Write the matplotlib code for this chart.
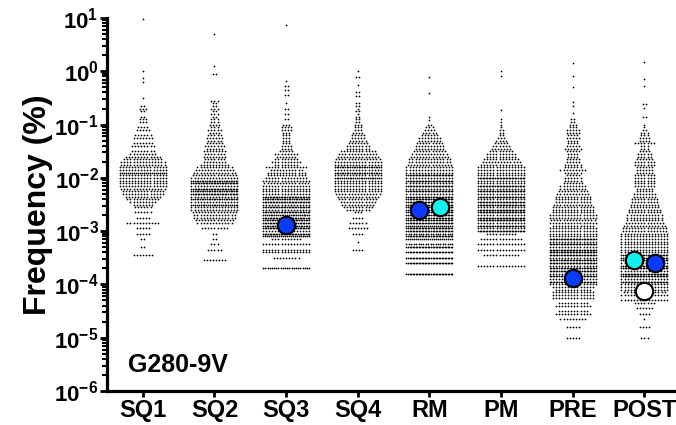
import numpy as np
import matplotlib
matplotlib.use('Agg')
import matplotlib.pyplot as plt
from matplotlib.ticker import LogLocator, LogFormatterMathtext, NullFormatter

# categories on the x axis
categories = ['SQ1', 'SQ2', 'SQ3', 'SQ4', 'RM', 'PM', 'PRE', 'POST']

# each swarm: log10(frequency) of the lowest row, then number of dots per row,
# one row every 0.05 decade going up; tails are sparse (log10 value, dots) rows
row_step = 0.05

sq1_start = -3.45
sq1_rows = [7, 0, 0, 2, 0, 0, 2, 0, 5, 0,
            5, 0, 11, 0, 5, 0, 6, 0, 6, 7,
            9, 11, 12, 14, 14, 15, 16, 16, 16, 16,
            16, 24, 16, 16, 15, 15, 13, 12, 9, 8,
            0, 8, 7, 0, 7, 6, 0, 5, 4, 0,
            3, 3, 2, 0, 2, 3, 2, 0, 0, 1]
sq1_tail = [(-0.20, 1), (-0.12, 1), (0.0, 1), (0.98, 1)]

sq2_start = -3.55
sq2_rows = [8, 0, 0, 0, 5, 0, 3, 0, 2, 0,
            2, 0, 9, 0, 12, 13, 14, 14, 15, 16,
            16, 26, 16, 28, 16, 30, 28, 30, 16, 30,
            28, 16, 15, 14, 13, 12, 10, 8, 7, 8,
            7, 8, 6, 7, 6, 5, 6, 5, 4, 5,
            3, 4, 3, 3, 2, 3, 2, 3, 2, 2,
            3]
sq2_tail = [(-0.05, 2), (0.09, 1), (0.70, 1)]

sq3_start = -3.70
sq3_rows = [22, 0, 0, 0, 9, 0, 16, 16, 0, 16,
            0, 10, 24, 30, 16, 30, 28, 30, 28, 30,
            26, 30, 16, 30, 16, 30, 28, 30, 16, 16,
            16, 16, 15, 16, 14, 13, 13, 11, 14, 8,
            10, 8, 7, 8, 5, 4, 4, 3, 3, 3,
            3, 3, 4, 4, 3, 0, 2, 0, 2, 0,
            2, 0, 1]
sq3_tail = [(-0.45, 2), (-0.36, 2), (-0.28, 2), (-0.18, 1), (0.86, 1)]

sq4_start = -3.35
sq4_rows = [4, 0, 0, 1, 0, 0, 4, 0, 7, 0,
            6, 0, 4, 0, 3, 8, 10, 11, 12, 13,
            14, 15, 16, 16, 16, 16, 16, 26, 16, 28,
            16, 28, 16, 16, 15, 14, 13, 12, 8, 8,
            7, 6, 5, 5, 4, 3, 3, 3, 2, 2,
            2, 1, 2, 1, 2, 2]
sq4_tail = [(-0.47, 2), (-0.38, 2), (-0.26, 1), (-0.10, 2), (0.0, 1)]

rm_start = -3.80
rm_rows = [31, 0, 0, 0, 31, 0, 31, 0, 31, 0,
           31, 20, 0, 24, 31, 20, 31, 31, 24, 31,
           31, 31, 31, 31, 31, 31, 31, 31, 31, 31,
           16, 31, 16, 31, 16, 31, 16, 31, 16, 16,
           16, 15, 14, 14, 13, 12, 11, 10, 10, 9,
           8, 8, 6, 5, 4, 3, 2]
rm_tail = [(-0.91, 1), (-0.85, 1), (-0.41, 1), (-0.10, 1)]

pm_start = -3.65
pm_rows = [16, 0, 0, 0, 12, 0, 16, 0, 16, 0,
           14, 0, 10, 31, 16, 31, 16, 31, 31, 16,
           31, 31, 16, 31, 31, 16, 31, 16, 31, 16,
           31, 16, 16, 31, 16, 16, 16, 16, 14, 13,
           12, 10, 10, 8, 7, 6, 5, 4, 3, 2,
           2, 2, 1, 1, 1, 1]
pm_tail = [(-0.72, 1), (-0.09, 1), (0.01, 1)]

pre_start = -5.00
pre_rows = [5, 0, 0, 0, 5, 0, 0, 9, 0, 12,
            10, 0, 12, 10, 0, 14, 14, 14, 12, 14,
            16, 31, 16, 31, 16, 31, 31, 16, 31, 31,
            16, 31, 31, 31, 16, 31, 16, 31, 16, 16,
            16, 16, 14, 16, 15, 16, 16, 14, 14, 14,
            13, 12, 12, 12, 11, 10, 9, 9, 7, 6,
            6, 5, 6, 9, 6, 6, 5, 5, 4, 4,
            5, 6, 5, 4, 4, 5, 4, 5, 5, 3,
            3, 2, 2]
pre_tail = [(-0.79, 1), (-0.66, 1), (-0.57, 1), (-0.29, 1), (-0.08, 1), (0.16, 1)]

post_start = -5.00
post_rows = [3, 0, 0, 0, 4, 0, 0, 1, 0, 4,
             0, 6, 0, 7, 16, 0, 16, 14, 16, 16,
             16, 31, 16, 31, 31, 16, 31, 31, 16, 31,
             31, 31, 16, 16, 16, 16, 16, 16, 16, 16,
             15, 15, 14, 13, 12, 12, 12, 11, 11, 10,
             10, 9, 9, 8, 8, 6, 6, 7, 7, 7,
             7, 7, 6, 6, 6, 7, 7, 6, 5, 5,
             4, 3, 3, 7, 4, 4, 3, 3, 2, 1,
             1]
post_tail = [(-0.86, 2), (-0.69, 1), (-0.62, 2), (-0.27, 1), (-0.14, 1), (0.18, 1)]

starts = [sq1_start, sq2_start, sq3_start, sq4_start, rm_start, pm_start, pre_start, post_start]
rows = [sq1_rows, sq2_rows, sq3_rows, sq4_rows, rm_rows, pm_rows, pre_rows, post_rows]
tails = [sq1_tail, sq2_tail, sq3_tail, sq4_tail, rm_tail, pm_tail, pre_tail, post_tail]

# highlighted clones
hl_cat = ['SQ3', 'RM', 'RM', 'PRE', 'POST', 'POST', 'POST']
hl_val = [10**-2.88, 10**-2.60, 10**-2.55, 10**-3.87, 10**-3.55, 10**-3.60, 10**-4.12]
hl_col = ['#0b3bff', '#0b3bff', '#10f2f2', '#0b3bff', '#10f2f2', '#0b3bff', '#ffffff']

plt.rcParams['font.family'] = ['Liberation Sans', 'DejaVu Sans']
plt.rcParams['font.weight'] = 'bold'

W, H = 676, 425
fig = plt.figure(figsize=(W / 100, H / 100), dpi=100)
ax = fig.add_axes([107 / W, 34 / H, 569 / W, 373 / H])
ax.set_xlim(-0.5, 7.44)
ax.set_yscale('log')
ax.set_ylim(1e-6, 1e1)

px_per_unit = 569 / 7.94
dot_gap = 3.1 / px_per_unit
row_width = 46.0 / px_per_unit


def row_offsets(n):
    if n == 1:
        return np.zeros(1)
    sp = min(dot_gap, row_width / (n - 1))
    return (np.arange(n) - (n - 1) / 2) * sp


for i in range(len(categories)):
    levels = [(starts[i] + row_step * j, n) for j, n in enumerate(rows[i])] + tails[i]
    xs, ys = [], []
    for lv, n in levels:
        if n == 0:
            continue
        xs.extend(i + row_offsets(n))
        ys.extend([10 ** lv] * n)
    ax.scatter(xs, ys, s=1.6, marker='o', c='k', linewidths=0, zorder=2)

for k in range(len(hl_cat)):
    i = categories.index(hl_cat[k])
    near = [m for m in range(len(hl_cat))
            if hl_cat[m] == hl_cat[k] and abs(np.log10(hl_val[m]) - np.log10(hl_val[k])) < 0.3]
    dx = (near.index(k) - (len(near) - 1) / 2) * 0.3 if len(near) > 1 else 0
    ax.scatter(i + dx, hl_val[k], s=156, c=hl_col[k], edgecolors='k', linewidths=1.5, zorder=5)

ax.yaxis.set_major_locator(LogLocator(base=10, numticks=20))
ax.yaxis.set_minor_locator(LogLocator(base=10, subs=np.arange(2, 10), numticks=20))
ax.yaxis.set_major_formatter(LogFormatterMathtext())
ax.yaxis.set_minor_formatter(NullFormatter())
ax.tick_params(axis='y', which='major', length=5, width=2, labelsize=16, pad=1)
ax.tick_params(axis='y', which='minor', length=3.5, width=1.5)
ax.set_xticks(range(len(categories)))
ax.set_xticklabels(categories)
ax.tick_params(axis='x', length=4.5, width=2, labelsize=17, pad=1)

for side in ['top', 'right']:
    ax.spines[side].set_visible(False)
for side in ['left', 'bottom']:
    ax.spines[side].set_linewidth(2.3)

ax.set_ylabel('Frequency (%)', fontsize=23, fontweight='bold')
ax.yaxis.set_label_coords(-0.095, 0.5)
ax.text(0.037, 0.051, 'G280-9V', transform=ax.transAxes, fontsize=18,
        fontweight='bold', va='baseline')

fig.savefig('out.png', dpi=100)
